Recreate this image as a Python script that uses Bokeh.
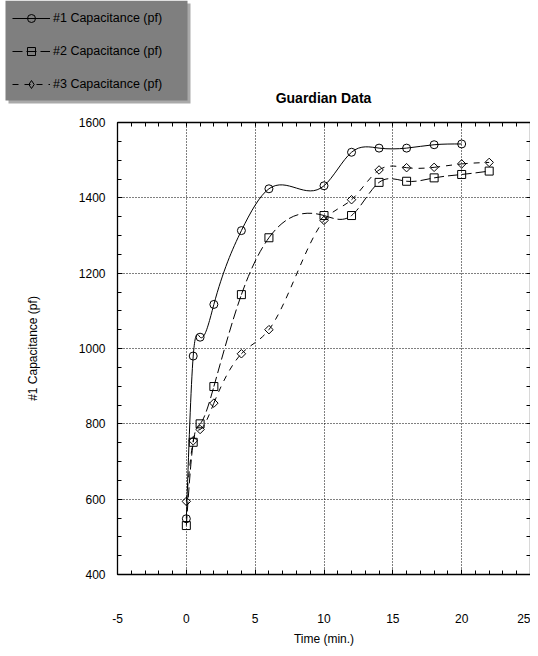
import numpy as np
from bokeh.plotting import figure
from bokeh.models import (LinearAxis, SingleIntervalTicker, FixedTicker, Legend,
                          LegendItem, ColumnDataSource, Grid, Label,
                          PrintfTickFormatter, BoxAnnotation, Range1d)
from bokeh.embed import file_html
from bokeh.resources import INLINE

# ---------------- data ----------------
time1 = [0, 0.5, 1, 2, 4, 6, 10, 12, 14, 16, 18, 20]
cap1 = [548, 980, 1030, 1117, 1313, 1424, 1432, 1521, 1532, 1532, 1541, 1543]

time2 = [0, 0.5, 1, 2, 4, 6, 10, 12, 14, 16, 18, 20, 22]
cap2 = [530, 751, 800, 899, 1143, 1294, 1353, 1353, 1441, 1444, 1453, 1462, 1471]

time3 = [0, 0.5, 1, 2, 4, 6, 10, 12, 14, 16, 18, 20, 22]
cap3 = [594, 755, 785, 855, 986, 1050, 1340, 1395, 1474, 1480, 1481, 1490, 1494]

names = ["#1 Capacitance (pf)", "#2 Capacitance (pf)", "#3 Capacitance (pf)"]
title_text = "Guardian Data"
x_label = "Time (min.)"
y_label = "#1 Capacitance (pf)"

X_START, X_END, X_STEP, X_MINOR = -5, 25, 5, 1
Y_START, Y_END, Y_STEP, Y_MINOR = 400, 1600, 200, 50

FONT = "Liberation Sans"


def spline_segments(xs, ys):
    """Natural cubic spline through the data, expressed as Bezier segments."""
    x = np.asarray(xs, float)
    y = np.asarray(ys, float)
    n = len(x)
    h = np.diff(x)
    A = np.zeros((n, n))
    r = np.zeros(n)
    A[0, 0] = 1
    A[-1, -1] = 1
    for i in range(1, n - 1):
        A[i, i - 1] = h[i - 1]
        A[i, i] = 2 * (h[i - 1] + h[i])
        A[i, i + 1] = h[i]
        r[i] = 6 * ((y[i + 1] - y[i]) / h[i] - (y[i] - y[i - 1]) / h[i - 1])
    M = np.linalg.solve(A, r)
    d0 = (y[1:] - y[:-1]) / h - h * (2 * M[:-1] + M[1:]) / 6
    d1 = (y[1:] - y[:-1]) / h + h * (M[:-1] + 2 * M[1:]) / 6
    return dict(x0=x[:-1], y0=y[:-1], x1=x[1:], y1=y[1:],
                cx0=x[:-1] + h / 3, cy0=y[:-1] + d0 * h / 3,
                cx1=x[1:] - h / 3, cy1=y[1:] - d1 * h / 3)


# (times, values, dash, marker in chart, size, angle, marker in legend, size)
series = [
    (time1, cap1, "solid", "circle", 8, 0.0, "circle", 8),
    (time2, cap2, "10 4", "square", 8, 0.0, "square", 8),
    (time3, cap3, "6 6", "square", 6, np.pi / 4, "diamond", 9),
]

# ---------------- header figure: legend + title ----------------
TOP_H = 110
head = figure(width=530, height=TOP_H, x_range=Range1d(100, 101),
              y_range=Range1d(100, 101), output_backend="svg",
              toolbar_location=None, min_border=0,
              x_axis_type=None, y_axis_type=None)
head.outline_line_color = None
head.grid.visible = False
head.background_fill_color = "white"
head.border_fill_color = "white"


def screen_box(left, right, top, bottom, color):
    # top/bottom given from the top of the header, converted to screen units
    return BoxAnnotation(left=left, right=right, top=TOP_H - top,
                         bottom=TOP_H - bottom, left_units="screen",
                         right_units="screen", bottom_units="screen",
                         top_units="screen", fill_color=color, fill_alpha=1,
                         line_color=None)


head.add_layout(screen_box(8, 190, 3, 103, "#a9a9a9"))   # drop shadow
head.add_layout(screen_box(5, 187, 0, 100, "#7f7f7f"))   # legend panel

head.add_layout(Label(x=323, y=TOP_H - 97, x_units="screen", y_units="screen",
                      text=title_text, text_align="center",
                      text_baseline="middle", text_font=FONT,
                      text_font_size="14px", text_font_style="bold",
                      text_color="black"))

items = []
for (tx, cy, dash, _m, _s, _a, lmarker, lsize), name in zip(series, names):
    seg = ColumnDataSource(spline_segments(tx, cy))
    r_line = head.bezier(x0="x0", y0="y0", x1="x1", y1="y1", cx0="cx0",
                         cy0="cy0", cx1="cx1", cy1="cy1", source=seg,
                         line_color="black", line_width=1, line_dash=dash)
    r_pt = head.scatter(tx, cy, marker=lmarker, size=lsize,
                        line_color="black", line_width=1, fill_alpha=0)
    items.append(LegendItem(label=name, renderers=[r_line, r_pt]))

legend = Legend(items=items, location=(12, TOP_H - 94))
legend.background_fill_alpha = 0
legend.border_line_color = None
legend.label_text_font = FONT
legend.label_text_font_size = "12.5px"
legend.label_text_color = "black"
legend.glyph_width = 38
legend.glyph_height = 20
legend.label_height = 20
legend.spacing = 13
legend.margin = 0
legend.label_standoff = 3
head.add_layout(legend, "center")

# ---------------- main chart ----------------
p = figure(width=530, height=650 - TOP_H, x_range=(X_START, X_END),
           y_range=(Y_START, Y_END), output_backend="svg",
           toolbar_location=None, min_border_left=117, min_border_right=0,
           min_border_top=122 - TOP_H, min_border_bottom=76,
           x_axis_type=None, y_axis_type=None)
p.outline_line_color = None
p.background_fill_color = "white"
p.border_fill_color = "white"

xt = SingleIntervalTicker(interval=X_STEP, num_minor_ticks=X_STEP // X_MINOR)
yt = SingleIntervalTicker(interval=Y_STEP, num_minor_ticks=Y_STEP // Y_MINOR)
xt_plain = FixedTicker(ticks=[], minor_ticks=list(
    np.arange(X_START, X_END + X_MINOR, X_MINOR)))
yt_plain = FixedTicker(ticks=[], minor_ticks=list(
    np.arange(Y_START, Y_END + Y_MINOR, Y_MINOR)))
fmt = PrintfTickFormatter(format="%d")


def style_axis(ax):
    ax.axis_line_color = "black"
    ax.axis_line_width = 1.3
    ax.major_tick_in = 5
    ax.major_tick_out = 0
    ax.minor_tick_in = 4
    ax.minor_tick_out = 0
    ax.major_tick_line_color = "black"
    ax.minor_tick_line_color = "black"
    ax.major_label_text_font = FONT
    ax.major_label_text_font_size = "12px"
    ax.major_label_text_color = "black"
    ax.axis_label_text_font = FONT
    ax.axis_label_text_font_size = "12px"
    ax.axis_label_text_font_style = "normal"
    ax.axis_label_text_color = "black"
    ax.formatter = fmt


xb = LinearAxis(ticker=xt, axis_label=x_label)
style_axis(xb)
xb.major_label_standoff = 39
xb.axis_label_standoff = 6
p.add_layout(xb, "below")

yl = LinearAxis(ticker=yt, axis_label=y_label)
style_axis(yl)
yl.major_label_standoff = 12
yl.axis_label_standoff = 36
p.add_layout(yl, "left")

xtop = LinearAxis(ticker=xt_plain)
style_axis(xtop)
xtop.major_label_standoff = 0
p.add_layout(xtop, "above")

yr = LinearAxis(ticker=yt_plain)
style_axis(yr)
yr.major_label_standoff = 0
p.add_layout(yr, "right")

for dim, tk in ((0, xt), (1, yt)):
    g = Grid(dimension=dim, ticker=tk, grid_line_color="black",
             grid_line_dash="1 2", grid_line_width=1, grid_line_alpha=1)
    p.add_layout(g)

for (tx, cy, dash, marker, msize, ang, _lm, _ls) in series:
    seg = ColumnDataSource(spline_segments(tx, cy))
    p.bezier(x0="x0", y0="y0", x1="x1", y1="y1", cx0="cx0", cy0="cy0",
             cx1="cx1", cy1="cy1", source=seg, line_color="black",
             line_width=1, line_dash=dash)
    p.scatter(tx, cy, marker=marker, size=msize, angle=ang,
              line_color="black", line_width=1, fill_alpha=0)

open("out.html", "w").write(file_html([head, p], INLINE))
